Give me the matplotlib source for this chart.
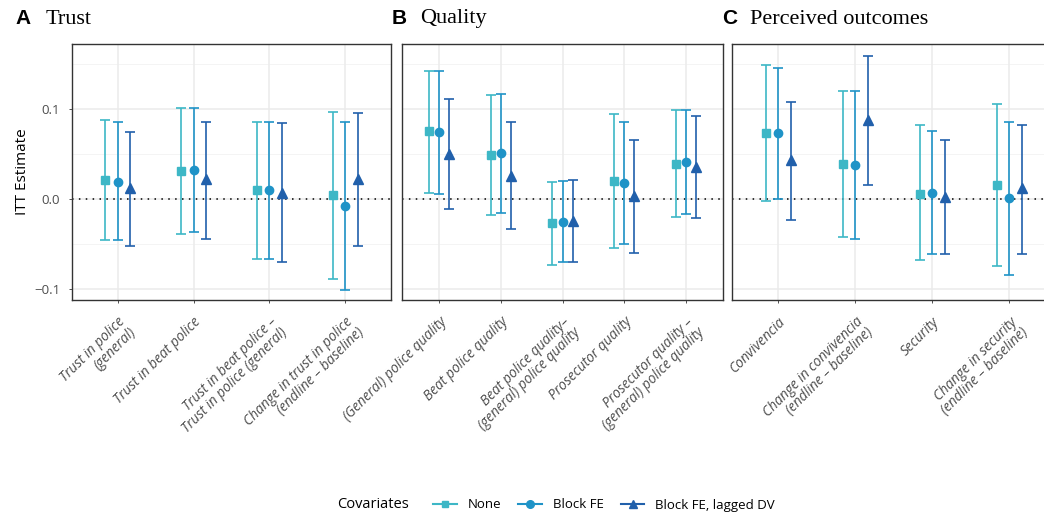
import matplotlib
matplotlib.use("Agg")
import matplotlib.pyplot as plt
from matplotlib.lines import Line2D
from matplotlib import font_manager
from matplotlib.transforms import ScaledTranslation
import numpy as np

# ITT estimates
# order within each panel: None, Block FE, Block FE + lagged DV
trust_labels = ["Trust in police\n(general)", "Trust in beat police",
                "Trust in beat police –\nTrust in police (general)",
                "Change in trust in police\n(endline – baseline)"]
trust_est = [[0.021, 0.031, 0.010, 0.005],
             [0.019, 0.032, 0.010, -0.008],
             [0.012, 0.022, 0.007, 0.022]]
trust_lo = [[-0.046, -0.039, -0.067, -0.089],
            [-0.046, -0.037, -0.067, -0.101],
            [-0.052, -0.044, -0.070, -0.052]]
trust_hi = [[0.088, 0.101, 0.086, 0.097],
            [0.085, 0.101, 0.086, 0.085],
            [0.074, 0.086, 0.084, 0.096]]

quality_labels = ["(General) police quality", "Beat police quality",
                  "Beat police quality–\n(general) police quality",
                  "Prosecutor quality",
                  "Prosecutor quality –\n(general) police quality"]
quality_est = [[0.075, 0.049, -0.027, 0.020, 0.039],
               [0.074, 0.051, -0.025, 0.018, 0.041],
               [0.050, 0.026, -0.024, 0.003, 0.035]]
quality_lo = [[0.007, -0.018, -0.073, -0.054, -0.020],
              [0.006, -0.015, -0.070, -0.050, -0.017],
              [-0.011, -0.033, -0.070, -0.060, -0.021]]
quality_hi = [[0.142, 0.116, 0.019, 0.094, 0.099],
              [0.142, 0.117, 0.020, 0.085, 0.099],
              [0.111, 0.086, 0.021, 0.066, 0.092]]

outcome_labels = ["Convivencia", "Change in convivencia\n(endline – baseline)",
                  "Security", "Change in security\n(endline – baseline)"]
outcome_est = [[0.073, 0.039, 0.006, 0.016],
               [0.073, 0.038, 0.007, 0.001],
               [0.043, 0.088, 0.002, 0.012]]
outcome_lo = [[-0.002, -0.042, -0.068, -0.074],
              [0.000, -0.044, -0.061, -0.084],
              [-0.023, 0.016, -0.061, -0.061]]
outcome_hi = [[0.149, 0.120, 0.082, 0.105],
              [0.145, 0.120, 0.076, 0.086],
              [0.108, 0.159, 0.066, 0.082]]

covariates = ["None", "Block FE", "Block FE, lagged DV"]
colors = ["#3DB7C6", "#1F93C7", "#2160AB"]
markers = ["s", "o", "^"]
msizes = [5.5, 6, 6.5]
offsets = [-0.165, 0, 0.165]

plt.rcParams["font.family"] = ["Open Sans", "DejaVu Sans"]


# pick a normal-width italic sans file (avoid condensed variants)
def find_italic(size):
    for name in ["Open Sans", "Noto Sans", "Lato"]:
        for f in font_manager.fontManager.ttflist:
            if (f.name == name and f.style == "italic" and f.stretch == "normal"
                    and f.weight in (400, "normal", "regular")
                    and "ondensed" not in f.fname):
                return font_manager.FontProperties(fname=f.fname, size=size)
    return font_manager.FontProperties(family="DejaVu Sans", style="oblique", size=size - 0.8)


italic_fp = find_italic(9.9)

fig = plt.figure(figsize=(10.44, 5.17), dpi=100)

W, H = 1044, 517
bottom = (H - 300) / H
height = 256 / H
ylim = (-0.1122, 0.1722)

panels = [
    ("A", "Trust", trust_labels, trust_est, trust_lo, trust_hi, 72, 391, 3.6),
    ("B", "Quality", quality_labels, quality_est, quality_lo, quality_hi, 402, 723, 4.6),
    ("C", "Perceived outcomes", outcome_labels, outcome_est, outcome_lo, outcome_hi, 732, 1044, 3.45),
]

shift = ScaledTranslation(-8 / 100, 0, fig.dpi_scale_trans)

for i, (letter, title, labels, est, lo, hi, x0, x1, xmax) in enumerate(panels):
    ax = fig.add_axes([x0 / W, bottom, (x1 - x0) / W, height])
    n = len(labels)
    x = np.arange(n)
    ax.set_xlim(-0.6, xmax)
    ax.set_ylim(*ylim)

    # grid like ggplot theme_bw
    for yv in [-0.05, 0.05, 0.15]:
        ax.axhline(yv, color="#F2F2F2", lw=0.6, zorder=0)
    for yv in [-0.1, 0.0, 0.1]:
        ax.axhline(yv, color="#EBEBEB", lw=1.1, zorder=0)
    for xv in x:
        ax.axvline(xv, color="#EBEBEB", lw=1.1, zorder=0)

    ax.axhline(0, color="black", lw=1.1, linestyle=(0, (1, 3.5)), zorder=1)

    for k in range(3):
        e = np.array(est[k])
        yerr = [e - np.array(lo[k]), np.array(hi[k]) - e]
        ax.errorbar(x + offsets[k], e, yerr=yerr, fmt=markers[k], color=colors[k],
                    ms=msizes[k], elinewidth=1.2, capsize=3.8, capthick=1.2, zorder=3)

    ax.set_xticks(x)
    ax.set_xticklabels(labels, rotation=45, ha="right", va="top",
                       rotation_mode="anchor", fontproperties=italic_fp,
                       color="#4D4D4D", multialignment="right", linespacing=1.0)
    for lab in ax.get_xticklabels():
        lab.set_transform(lab.get_transform() + shift)
    ax.tick_params(axis="x", length=2.5, width=0.6, color="#333333", pad=8)
    ax.set_yticks([-0.1, 0.0, 0.1])
    if i == 0:
        ax.set_yticklabels(["\u22120.1", "0.0", "0.1"], fontsize=9.5, color="#4D4D4D")
        ax.tick_params(axis="y", length=2.5, width=0.6, color="#333333", pad=6)
        ax.set_ylabel("ITT Estimate", fontsize=11, color="black", labelpad=3)
    else:
        ax.set_yticklabels([])
        ax.tick_params(axis="y", length=0)

    for s in ax.spines.values():
        s.set_color("#333333")
        s.set_linewidth(1.0)
    if i == 2:
        ax.spines["right"].set_visible(False)

    fig.text((x0 - 57) / W if i == 0 else (x0 - 10) / W, 1 - 18 / H, letter,
             fontsize=15, fontweight="bold", family="Liberation Sans",
             ha="left", va="center")
    fig.text((x0 - 26) / W if i == 0 else (x0 + 18) / W, 1 - 19 / H, title,
             fontsize=16, family="Liberation Serif", ha="left", va="center")

# legend
fig.text(337 / W, 12 / H, "Covariates", fontsize=10.5, ha="left", va="center")
handles = [Line2D([0], [0], color=colors[k], marker=markers[k], ms=msizes[k] - 0.5, lw=1.5)
           for k in range(3)]
fig.legend(handles, covariates, loc="center left", bbox_to_anchor=(428 / W, 12 / H),
           ncol=3, frameon=False, fontsize=9.5, handlelength=1.8, handletextpad=0.8,
           columnspacing=1.3, borderaxespad=0)

fig.savefig("out.png", dpi=100)
